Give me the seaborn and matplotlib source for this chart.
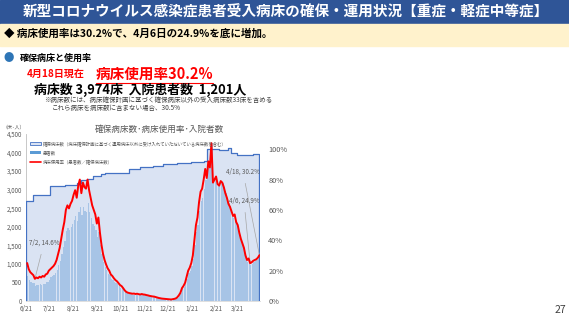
import numpy as np
import pandas as pd
import matplotlib
matplotlib.use("Agg")
import matplotlib.pyplot as plt
import matplotlib.dates as mdates
from matplotlib.patches import Rectangle, Patch
from matplotlib.lines import Line2D
import seaborn as sns

sns.set_theme(style="white")
plt.rcParams['font.family'] = ['Noto Sans CJK JP', 'DejaVu Sans']

# ---------------- data ----------------
period_end = "2021-04-18"
# bed usage rate (%) every 2 days, 2020-06-22 .. 2021-04-18
usage_rate = [
    25, 21, 19, 18, 17, 14.6, 15.5, 15, 16, 15.5,
    16.5, 16, 17.5, 18, 20, 21, 22, 23, 24.5, 27,
    31, 35, 41, 47, 52, 60, 63, 61, 64, 66,
    70, 73, 68, 76, 80, 71, 78, 75, 74, 80,
    73, 68, 63, 60, 57, 51, 55, 45, 37, 31,
    27, 24, 21.5, 20, 17.5, 16.5, 15, 13.8, 13, 11.8,
    10.5, 9.8, 8.5, 7, 6, 5.5, 5.2, 5, 4.8, 4.9,
    4.6, 4.8, 4.5, 4.3, 4.6, 4.3, 4.2, 3.9, 3.7, 3.4,
    3.2, 3.0, 2.9, 2.6, 2.3, 2.0, 1.8, 1.6, 1.5, 1.4,
    1.3, 1.2, 1.1, 1.0, 1.2, 1.4, 1.7, 2.5, 3.8, 5.5,
    8.5, 10, 12, 16, 20, 22, 25, 30, 40, 50,
    55, 65, 72, 74, 80, 87, 81, 92, 88, 104,
    78, 80, 82, 77, 76, 79, 78, 75, 71, 68,
    64, 62, 59, 56, 57, 52, 50, 45, 41, 38,
    35, 30, 27, 28, 24.9, 25.5, 26.5, 27, 27.5, 28.5,
    30.2,
]
# secured beds (step changes)
capacity_dates = ["2020-06-21", "2020-06-29", "2020-07-22", "2020-08-10", "2020-08-25",
                  "2020-08-31", "2020-09-07", "2020-09-15", "2020-09-25", "2020-10-01",
                  "2020-10-25", "2020-11-01", "2020-11-15", "2020-12-01", "2020-12-15",
                  "2021-01-01", "2021-01-20", "2021-02-05", "2021-02-09", "2021-02-25",
                  "2021-03-08", "2021-03-12", "2021-03-20", "2021-04-10", "2021-04-18"]
capacity_values = [2700, 2850, 3100, 3130, 3170,
                   3250, 3300, 3380, 3430, 3440,
                   3450, 3560, 3600, 3650, 3700,
                   3720, 3740, 3760, 4100, 4080,
                   4110, 4000, 3940, 3974, 3974]
annot_dates = ["2020-07-02", "2021-04-06", "2021-04-18"]
annot_values = [14.6, 24.9, 30.2]
annot_labels = ["7/2, 14.6%", "4/6, 24.9%", "4/18, 30.2%"]
xtick_labels = ["6/21", "7/21", "8/21", "9/21", "10/21", "11/21", "12/21", "1/21", "2/21", "3/21"]
xtick_dates = ["2020-06-21", "2020-07-21", "2020-08-21", "2020-09-21", "2020-10-21",
               "2020-11-21", "2020-12-21", "2021-01-21", "2021-02-21", "2021-03-21"]
left_ticks = [0, 500, 1000, 1500, 2000, 2500, 3000, 3500, 4000, 4500]
right_ticks = [0, 0.2, 0.4, 0.6, 0.8, 1.0]

# ---------------- tables ----------------
dates = pd.date_range(end=period_end, periods=len(usage_rate), freq="2D")
cap = pd.DataFrame({"date": pd.to_datetime(capacity_dates), "beds": capacity_values})
cap_series = pd.Series(capacity_values, index=pd.to_datetime(capacity_dates))
cap_at = cap_series.reindex(cap_series.index.union(dates)).ffill().loc[dates]
df = pd.DataFrame({"date": dates, "rate": np.array(usage_rate) / 100.0})
df["patients"] = df["rate"] * cap_at.values

# ---------------- figure ----------------
fig = plt.figure(figsize=(5.69, 3.2), dpi=100)
W, H = 569, 320

def fx(px):
    return px / W

def fy(py):
    return 1 - py / H

# header bands
fig.patches.append(Rectangle((0, fy(24)), 1, 24 / H, transform=fig.transFigure,
                             color="#2f5597", zorder=0))
fig.patches.append(Rectangle((0, fy(46)), 1, 22 / H, transform=fig.transFigure,
                             color="#fff2cc", zorder=0))
fig.text(fx(286), fy(12), "新型コロナウイルス感染症患者受入病床の確保・運用状況【重症・軽症中等症】",
         color="white", fontsize=10.5, fontweight="bold", ha="center", va="center")
fig.text(fx(4), fy(34), "◆ 病床使用率は30.2%で、4月6日の24.9%を底に増加。",
         color="black", fontsize=7.6, fontweight="bold", ha="left", va="center")
fig.text(fx(4), fy(58), "●", color="#2e75b6", fontsize=7.5, ha="left", va="center")
fig.text(fx(20), fy(58), "確保病床と使用率", color="black", fontsize=6.5, fontweight="bold",
         ha="left", va="center")
fig.text(fx(27), fy(74), "4月18日現在", color="#ff0000", fontsize=7.2, fontweight="bold",
         ha="left", va="center")
fig.text(fx(96), fy(74), "病床使用率30.2%", color="#ff0000", fontsize=10.5, fontweight="bold",
         ha="left", va="center")
fig.lines.append(Line2D([fx(96), fx(213)], [fy(83), fy(83)], transform=fig.transFigure,
                        color="#ff0000", lw=0.8))
fig.text(fx(34), fy(90), "病床数 3,974床  入院患者数  1,201人", color="black", fontsize=9.3,
         fontweight="bold", ha="left", va="center")
fig.text(fx(44), fy(100), "※病床数には、病床確保計画に基づく確保病床以外の受入病床数33床を含める",
         color="#404040", fontsize=4.7, ha="left", va="center")
fig.text(fx(52), fy(108), "これら病床を病床数に含まない場合、30.5%",
         color="#404040", fontsize=4.7, ha="left", va="center")
fig.text(fx(560), fy(310), "27", color="#404040", fontsize=7.5, ha="center", va="center")

# chart
ax = fig.add_axes([fx(26), fy(301), fx(260) - fx(26), (301 - 134) / H])
ax.set_facecolor("none")
t_start = pd.Timestamp("2020-06-21")
t_end = pd.Timestamp(period_end)

# secured beds area (step)
ax.fill_between(cap["date"], 0, cap["beds"], step="post", color="#dae3f3", lw=0, zorder=1)
sns.lineplot(data=cap, x="date", y="beds", ax=ax, color="#4472c4", lw=0.9,
             drawstyle="steps-post", zorder=3, legend=False)
ax.vlines([t_start, t_end], 0, [capacity_values[0], capacity_values[-1]],
          color="#4472c4", lw=0.9, zorder=3)

# patients bars
ax.bar(df["date"], df["patients"], width=1.7, color="#a7c4e6", lw=0, zorder=2, align="edge")

ax.set_xlim(t_start - pd.Timedelta(hours=12), t_end + pd.Timedelta(hours=18))
ax.set_ylim(0, 4500)
ax.set_yticks(left_ticks)
ax.set_yticklabels([f"{v:,}" for v in left_ticks])
ax.set_xticks(pd.to_datetime(xtick_dates))
ax.set_xticklabels(xtick_labels)
ax.tick_params(axis="both", labelsize=4.5, colors="#595959", length=0, pad=3)
ax.set_xlabel("")
ax.set_ylabel("")
for s in ["top", "right"]:
    ax.spines[s].set_visible(False)
ax.spines["left"].set_color("#bfbfbf")
ax.spines["left"].set_linewidth(0.6)
ax.spines["bottom"].set_color("#d9d9d9")
ax.spines["bottom"].set_linewidth(0.6)

# rate line on secondary axis
ax2 = ax.twinx()
sns.lineplot(data=df, x="date", y="rate", ax=ax2, color="#ff0000", lw=1.4, zorder=5, legend=False)
ax2.set_ylim(0, 1.1)
ax2.set_yticks(right_ticks)
ax2.set_yticklabels([f"{int(round(v * 100))}%" for v in right_ticks])
ax2.tick_params(axis="y", labelsize=5.3, colors="#595959", length=0, pad=6)
ax2.set_ylabel("")
ax2.set_xlim(ax.get_xlim())
for s in ["top", "right", "left", "bottom"]:
    ax2.spines[s].set_visible(False)

# annotations
offsets = [(44, 243), (244, 201), (243, 172)]
for d, v, lab, (tx, ty) in zip(annot_dates, annot_values, annot_labels, offsets):
    xy = (mdates.date2num(pd.Timestamp(d)), v / 100)
    ax2.annotate(lab, xy=xy, xytext=(fx(tx), fy(ty)), textcoords="figure fraction",
                 fontsize=4.5, color="#595959", ha="center", va="center",
                 arrowprops=dict(arrowstyle="-", color="#a6a6a6", lw=0.5,
                                 shrinkA=3, shrinkB=0))

# legend
handles = [Patch(facecolor="#dae3f3", edgecolor="#4472c4", lw=0.6),
           Patch(facecolor="#5b9bd5", edgecolor="none"),
           Line2D([0], [0], color="#ff0000", lw=1.2)]
labels = ["確保病床数（病床確保計画に基づく運用病床以外に受け入れていただいている病床数を含む）",
          "患者数", "病床使用率（患者数／確保病床数）"]
ax2.legend(handles, labels, loc="upper left", bbox_to_anchor=(0.005, 0.975), frameon=False,
           fontsize=3.2, labelcolor="#595959", handlelength=2.6, handleheight=0.7,
           labelspacing=1.0, borderaxespad=0.2, handletextpad=0.4)

# chart title and axis unit
fig.text(fx(159), fy(129), "確保病床数･病床使用率･入院者数", color="#595959", fontsize=6.2,
         ha="center", va="center")
fig.text(fx(14), fy(127), "（床･人）", color="#595959", fontsize=3.6, ha="center", va="center")

fig.savefig("out.png", dpi=100)
